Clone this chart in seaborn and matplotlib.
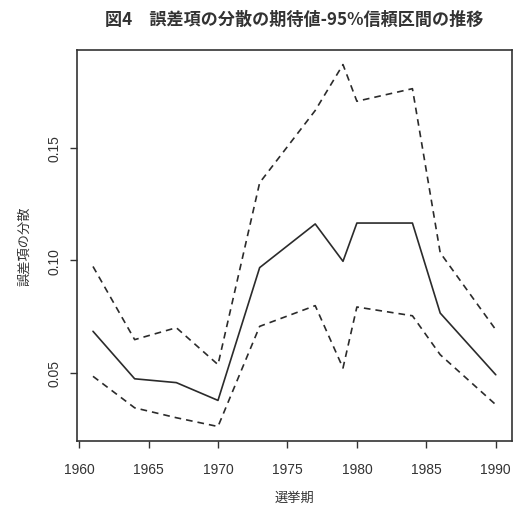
import matplotlib
matplotlib.use("Agg")
import matplotlib.pyplot as plt
import numpy as np
import pandas as pd
import seaborn as sns

# data
years = [1961, 1964, 1967, 1970, 1973, 1977, 1979, 1980, 1984, 1986, 1990]
expected = [0.0684, 0.0473, 0.0456, 0.0377, 0.0967, 0.1161, 0.0995, 0.1165, 0.1165, 0.0765, 0.0491]
upper = [0.0972, 0.0647, 0.0700, 0.0536, 0.1344, 0.1665, 0.1869, 0.1706, 0.1762, 0.1033, 0.0691]
lower = [0.0484, 0.0344, 0.0300, 0.0261, 0.0706, 0.0798, 0.0521, 0.0792, 0.0753, 0.0580, 0.0358]

x_ticks = [1960, 1965, 1970, 1975, 1980, 1985, 1990]
y_ticks = [0.05, 0.10, 0.15]
y_ticklabels = ["0.05", "0.10", "0.15"]

title = "図4　誤差項の分散の期待値-95%信頼区間の推移"
x_label = "選挙期"
y_label = "誤差項の分散"

sns.set_style("white")
plt.rcParams["font.family"] = ["Noto Sans CJK JP", "DejaVu Sans"]

df = pd.DataFrame({"year": years, "mean": expected, "upper": upper, "lower": lower})

fig = plt.figure(figsize=(5.16, 5.06), dpi=100)
ax = fig.add_axes([0.149, 0.1265, 0.843, 0.7725])

line_color = "#2b2b2b"
sns.lineplot(data=df, x="year", y="mean", ax=ax, color=line_color, linewidth=1.2)
sns.lineplot(data=df, x="year", y="upper", ax=ax, color=line_color, linewidth=1.2,
             linestyle=(0, (4, 3)))
sns.lineplot(data=df, x="year", y="lower", ax=ax, color=line_color, linewidth=1.2,
             linestyle=(0, (4, 3)))

# R-style 4% padding
xr = max(years) - min(years)
ax.set_xlim(min(years) - 0.04 * xr, max(years) + 0.04 * xr)
ymin, ymax = min(lower), max(upper)
yr = ymax - ymin
ax.set_ylim(ymin - 0.04 * yr, ymax + 0.04 * yr)

tick_font = dict(family="Liberation Sans", fontsize=10, color="#333333")
ax.set_xticks(x_ticks)
ax.set_xticklabels([str(t) for t in x_ticks], **tick_font)
ax.set_yticks(y_ticks)
ax.set_yticklabels(y_ticklabels, rotation=90, va="center", **tick_font)
ax.tick_params(axis="x", direction="out", length=5, width=1, color="#333333",
               bottom=True, pad=10)
ax.tick_params(axis="y", direction="out", length=5, width=1, color="#333333",
               left=True, pad=6)

for side in ax.spines.values():
    side.set_color("#333333")
    side.set_linewidth(1.2)

ax.set_xlabel(x_label, fontsize=9.5, color="#333333", labelpad=11)
ax.set_ylabel(y_label, fontsize=9.5, color="#333333", labelpad=12)
fig.suptitle(title, fontsize=12.3, fontweight="bold", color="#333333", x=0.571, y=0.978)

fig.savefig("out.png", dpi=100)
